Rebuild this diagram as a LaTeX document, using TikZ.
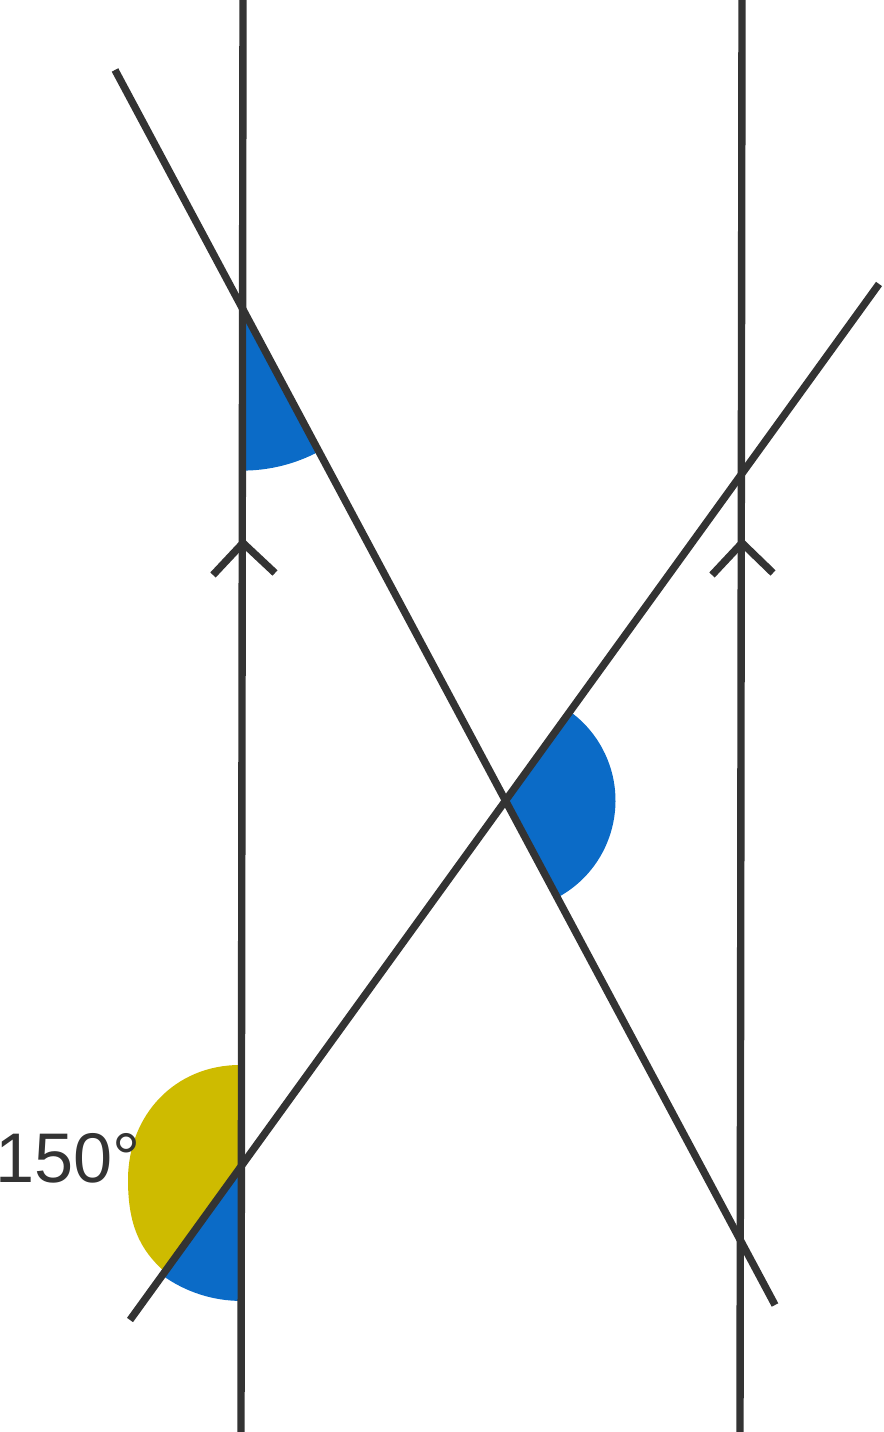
\documentclass[tikz,border=0pt]{standalone}
\usepackage{fontspec}
\setmainfont{Liberation Sans}
\usetikzlibrary{calc}

\definecolor{linegray}{HTML}{333333}
\definecolor{angleblue}{HTML}{0B6BC7}
\definecolor{angleyellow}{HTML}{CEBB00}

\begin{document}
\begin{tikzpicture}[x=0.02cm, y=0.02cm,
    line/.style={draw=linegray, line width=4.2pt},
    tickmark/.style={draw=linegray, line width=4.2pt},
    bluefill/.style={fill=angleblue},
    yellowfill/.style={fill=angleyellow}]
    \useasboundingbox (0,0) rectangle (883,1432);

    \coordinate (v1top) at (243,1432);
    \coordinate (v1bot) at (241,0);
    \coordinate (v2top) at (742,1432);
    \coordinate (v2bot) at (740,0);
    \coordinate (t1a) at (115,1362);
    \coordinate (t1b) at (775,127);
    \coordinate (t2a) at (130,112);
    \coordinate (t2b) at (879,1148);

    \coordinate (A) at (intersection of t1a--t1b and v1top--v1bot);
    \coordinate (O) at (intersection of t1a--t1b and t2a--t2b);
    \coordinate (B) at (intersection of t2a--t2b and v1top--v1bot);

    \path[yellowfill] (B) -- (240,367) .. controls (175,367) and (128,317) .. (128,252)
        .. controls (128,207) and (140,182) .. (165,160) -- cycle;
    \path[bluefill] (B) -- ++(234.14:135) arc[start angle=234.14, end angle=270, radius=135] -- cycle;
    \path[bluefill] (A) -- ++(270:162) arc[start angle=270, end angle=298.12, radius=162] -- cycle;
    \path[bluefill] (O) -- ++(-61.88:110) arc[start angle=-61.88, end angle=54.14, radius=110] -- cycle;

    \draw[line] (v1top) -- (v1bot);
    \draw[line] (v2top) -- (v2bot);
    \draw[line] (t1a) -- (t1b);
    \draw[line] (t2a) -- (t2b);

    \coordinate (k1) at (243,889);
    \coordinate (k1l) at (213,857);
    \coordinate (k1r) at (275,859);
    \coordinate (k2) at (742,889);
    \coordinate (k2l) at (712,857);
    \coordinate (k2r) at (773,859);
    \draw[tickmark] (k1l) -- (k1) -- (k1r);
    \draw[tickmark] (k2l) -- (k2) -- (k2r);

    \node[anchor=base east, inner sep=0pt, text=linegray, font=\fontsize{40}{48}\selectfont] (lbl150) at (141,249) {150°};
\end{tikzpicture}
\end{document}
